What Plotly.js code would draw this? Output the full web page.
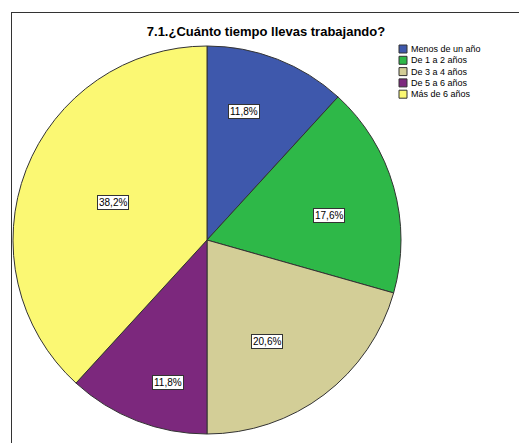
<!DOCTYPE html>
<html>
<head>
<meta charset="utf-8">
<script src="https://cdn.plot.ly/plotly-3.0.1.min.js"></script>
<style>
html,body{margin:0;padding:0;overflow:hidden;background:#fff;width:519px;height:443px;}
#frame{position:absolute;left:11px;top:12px;width:520px;height:440px;border-left:1px solid #333;border-top:1px solid #333;}
#chart{position:absolute;left:0;top:0;width:520px;height:440px;}
</style>
</head>
<body>
<div id="frame"><div id="chart"></div></div>
<script>
const categories = ["Menos de un año", "De 1 a 2 años", "De 3 a 4 años", "De 5 a 6 años", "Más de 6 años"];
const percents = [11.8, 17.6, 20.6, 11.8, 38.2];
const colors = ["#3E58AC", "#2EB848", "#D3CE97", "#7C287D", "#FBF873"];
const titleText = "7.1.¿Cuánto tiempo llevas trabajando?";

const W = 520, H = 440;
const cx = 195, cy = 227, R = 194;
// label placement (fraction of radius, angular shift in degrees from slice bisector)
const labelFrac = [0.69, 0.64, 0.61, 0.76, 0.52];
const labelShift = [-5, 4.5, 6.5, -6, 0.5];

const total = percents.reduce((a, b) => a + b, 0);
const annotations = [];
const shapes = [];
let cum = 0;
percents.forEach((p, i) => {
  const mid = ((cum + p / 2) / total * 360 + labelShift[i]) * Math.PI / 180;
  cum += p;
  const px = cx + R * labelFrac[i] * Math.sin(mid);
  const py = cy - R * labelFrac[i] * Math.cos(mid);
  annotations.push({
    x: px / W, y: 1 - py / H, xref: "paper", yref: "paper",
    xanchor: "center", yanchor: "middle",
    text: p.toFixed(1).replace(".", ",") + "%",
    showarrow: false, bgcolor: "#ffffff", bordercolor: "#333333",
    borderwidth: 1, borderpad: 1,
    font: {family: "Liberation Sans, Arial, sans-serif", size: 10, color: "#000"}
  });
});

// legend
const lx = 387, ly = 36, step = 11.3, sq = 8;
categories.forEach((c, i) => {
  const yc = ly + i * step;
  shapes.push({
    type: "rect", xref: "paper", yref: "paper",
    x0: lx / W, x1: (lx + sq) / W,
    y0: 1 - (yc + sq / 2) / H, y1: 1 - (yc - sq / 2) / H,
    fillcolor: colors[i], line: {color: "#333", width: 1}
  });
  annotations.push({
    x: (lx + sq + 2) / W, y: 1 - yc / H, xref: "paper", yref: "paper",
    xanchor: "left", yanchor: "middle", text: c, showarrow: false,
    font: {family: "Liberation Sans, Arial, sans-serif", size: 9, color: "#000"}
  });
});

const trace = {
  type: "pie",
  labels: categories,
  values: percents,
  sort: false,
  direction: "clockwise",
  rotation: 0,
  marker: {colors: colors, line: {color: "#333333", width: 1}},
  textinfo: "none",
  hoverinfo: "label+percent",
  domain: {x: [(cx - R) / W, (cx + R) / W], y: [1 - (cy + R) / H, 1 - (cy - R) / H]},
  showlegend: false
};

const layout = {
  width: W, height: H,
  margin: {l: 0, r: 0, t: 0, b: 0},
  paper_bgcolor: "#fff",
  showlegend: false,
  title: {
    text: "<b>" + titleText + "</b>",
    x: (265 - 11) / W, xanchor: "center",
    y: 1 - (30 - 12) / H, yanchor: "middle",
    font: {family: "Liberation Sans, Arial, sans-serif", size: 13, color: "#000"}
  },
  annotations: annotations,
  shapes: shapes
};

Plotly.newPlot("chart", [trace], layout, {staticPlot: true});
</script>
</body>
</html>
